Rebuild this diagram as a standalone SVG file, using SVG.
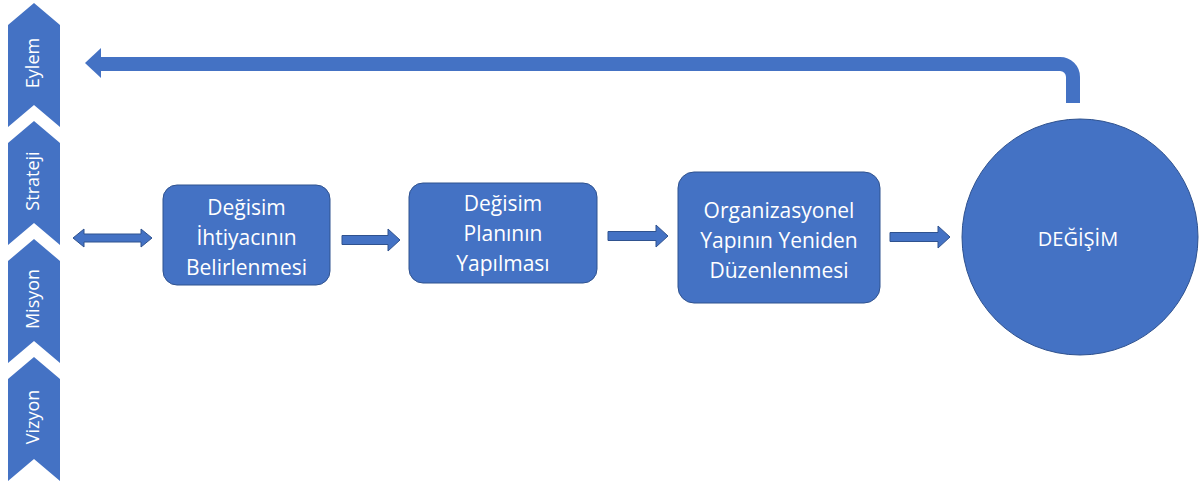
<svg xmlns="http://www.w3.org/2000/svg" width="1199" height="485" viewBox="0 0 1199 485">
<style>
.chev{fill:#4472C4;}
.vt{fill:#fff;font-family:"Open Sans","Noto Sans",sans-serif;font-size:18px;text-anchor:middle;dominant-baseline:central;}
.box{fill:#4472C4;stroke:#2F528F;stroke-width:1;}
.bt{fill:#fff;font-family:"Open Sans","Noto Sans",sans-serif;font-size:21px;text-anchor:middle;dominant-baseline:central;}
.arr{fill:#4472C4;stroke:#2F528F;stroke-width:1;}
</style>
<rect width="1199" height="485" fill="#fff"/>
<g id="eylem">
<polygon class="chev" points="34,3 60,25 60,127 34,105 8,127 8,25"/>
<text class="vt" transform="translate(32,63) rotate(-90)">Eylem</text>
</g>
<g id="strateji">
<polygon class="chev" points="34,121 60,143 60,245 34,223 8,245 8,143"/>
<text class="vt" transform="translate(32,181) rotate(-90)">Strateji</text>
</g>
<g id="misyon">
<polygon class="chev" points="34,239 60,261 60,363 34,341 8,363 8,261"/>
<text class="vt" transform="translate(32,299) rotate(-90)">Misyon</text>
</g>
<g id="vizyon">
<polygon class="chev" points="34,357 60,379 60,481 34,459 8,481 8,379"/>
<text class="vt" transform="translate(32,417) rotate(-90)">Vizyon</text>
</g>
<g id="box1">
<rect class="box" x="163" y="185" width="167" height="100" rx="14"/>
<text class="bt" x="246.5" y="207">Değisim</text>
<text class="bt" x="246.5" y="237">İhtiyacının</text>
<text class="bt" x="246.5" y="267">Belirlenmesi</text>
</g>
<g id="box2">
<rect class="box" x="409" y="183" width="188" height="100" rx="14"/>
<text class="bt" x="503" y="203">Değisim</text>
<text class="bt" x="503" y="233">Planının</text>
<text class="bt" x="503" y="263">Yapılması</text>
</g>
<g id="box3">
<rect class="box" x="678" y="172" width="202" height="131" rx="16"/>
<text class="bt" x="779" y="210">Organizasyonel</text>
<text class="bt" x="779" y="240">Yapının Yeniden</text>
<text class="bt" x="779" y="270">Düzenlenmesi</text>
</g>
<g id="degisim">
<circle cx="1080" cy="237" r="118" fill="#4472C4" stroke="#2F528F" stroke-width="1"/>
<text class="bt" x="1078" y="238" style="font-size:20px">DEĞİŞİM</text>
</g>
<g id="connectors">
<polygon class="arr" points="73,238 84,229 84,234 141,234 141,229 152,238 141,247 141,242 84,242 84,247"/>
<polygon class="arr" points="342,235.5 388,235.5 388,229 400,240 388,251 388,244.5 342,244.5"/>
<polygon class="arr" points="608,231.5 656,231.5 656,225 668,236 656,247 656,240.5 608,240.5"/>
<polygon class="arr" points="890,232.5 938,232.5 938,226 950,237 938,248 938,241.5 890,241.5"/>
<path d="M1073,103 V77 A13,13 0 0 0 1060,64 H99" fill="none" stroke="#4472C4" stroke-width="14"/>
<polygon fill="#4472C4" points="85,63 101,48 101,78"/>
</g>
</svg>
